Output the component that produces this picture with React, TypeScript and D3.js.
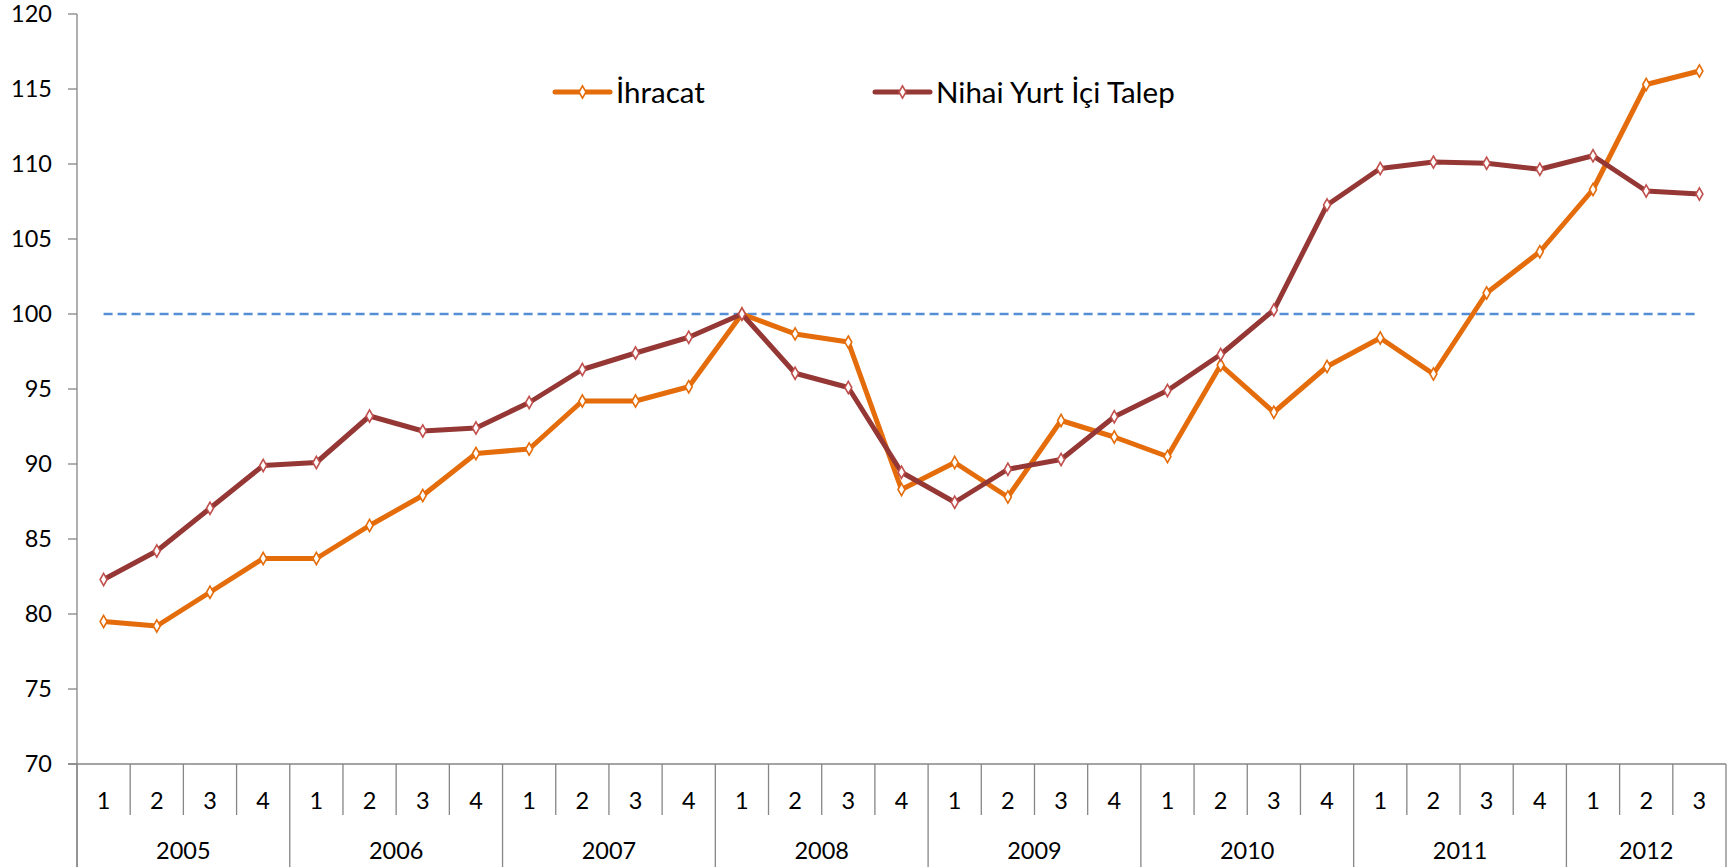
import React from "react";
import * as d3 from "d3";

const periods = [
  "2005-1","2005-2","2005-3","2005-4",
  "2006-1","2006-2","2006-3","2006-4",
  "2007-1","2007-2","2007-3","2007-4",
  "2008-1","2008-2","2008-3","2008-4",
  "2009-1","2009-2","2009-3","2009-4",
  "2010-1","2010-2","2010-3","2010-4",
  "2011-1","2011-2","2011-3","2011-4",
  "2012-1","2012-2","2012-3",
];
const years = ["2005","2006","2007","2008","2009","2010","2011","2012"];

const ihracat = [79.5, 79.2, 81.45, 83.7, 83.7, 85.9, 87.9, 90.7, 91.0, 94.2, 94.2, 95.15, 100, 98.67, 98.13, 88.3, 90.1, 87.8, 92.9, 91.8, 90.5, 96.6, 93.45, 96.5, 98.4, 96.0, 101.4, 104.15, 108.3, 115.3, 116.2];
const talep = [82.3, 84.2, 87.05, 89.9, 90.1, 93.2, 92.2, 92.4, 94.1, 96.3, 97.4, 98.45, 100, 96.05, 95.1, 89.45, 87.45, 89.65, 90.3, 93.15, 94.9, 97.3, 100.27, 107.27, 109.7, 110.13, 110.05, 109.65, 110.55, 108.2, 108.0];
const baseLevel = 100;
const yTicks = [70, 75, 80, 85, 90, 95, 100, 105, 110, 115, 120];

const seriesNames = ["İhracat", "Nihai Yurt İçi Talep"];

const ORANGE = "#E46C0A";
const MAROON = "#953735";
const MAROON_MK = "#C0504D";
const BLUE = "#558ED5";
const AXIS = "#868686";
const FONT = "Lato, 'Open Sans', sans-serif";

export default function App() {
  const W = 1733, H = 867;
  const left = 77, right = 1726, top = 14, bottom = 764;
  const x = d3.scaleBand<string>().domain(periods).range([left, right]).padding(0);
  const bw = x.bandwidth();
  const cx = (p: string) => (x(p) as number) + bw / 2;
  const y = d3.scaleLinear().domain([70, 120]).range([bottom, top]);

  const line = d3.line<number>().x((_, i) => cx(periods[i])).y((v) => y(v));
  const diamond = d3.symbol().type(d3.symbolDiamond).size(42)();

  const series = [
    { name: seriesNames[0], data: ihracat, color: ORANGE, mk: ORANGE },
    { name: seriesNames[1], data: talep, color: MAROON, mk: MAROON_MK },
  ];

  const qRowBottom = 815;
  const yearBounds: { year: string; start: number; end: number }[] = [];
  years.forEach((yr) => {
    const idx = periods.map((p, i) => (p.startsWith(yr) ? i : -1)).filter((i) => i >= 0);
    const start = x(periods[idx[0]]) as number;
    const end = (x(periods[idx[idx.length - 1]]) as number) + bw;
    yearBounds.push({ year: yr, start, end });
  });

  const legendItems = [
    { name: seriesNames[0], color: ORANGE, mk: ORANGE, x0: 555, x1: 610 },
    { name: seriesNames[1], color: MAROON, mk: MAROON_MK, x0: 875, x1: 930 },
  ];

  return (
    <svg width={W} height={H} style={{ position: "absolute", left: 0, top: 0, background: "#fff" }} fontFamily={FONT}>
      {/* y axis */}
      <line x1={left} x2={left} y1={top} y2={H} stroke={AXIS} strokeWidth={1.3} />
      {yTicks.map((t) => (
        <g key={t}>
          <line x1={left - 9} x2={left} y1={y(t)} y2={y(t)} stroke={AXIS} strokeWidth={1.3} />
          <text x={52} y={y(t)} dy="0.36em" textAnchor="end" fontSize={23.5} fill="#000">{t}</text>
        </g>
      ))}
      {/* x axis */}
      <line x1={left - 9} x2={right} y1={bottom} y2={bottom} stroke={AXIS} strokeWidth={1.3} />
      {periods.map((p, i) => (
        <g key={p}>
          {i > 0 && p.endsWith("-1") ? null : (
            <line x1={x(p) as number} x2={x(p) as number} y1={bottom} y2={i === 0 ? H : qRowBottom} stroke={AXIS} strokeWidth={1.3} />
          )}
          <text x={cx(p)} y={800.5} dy="0.36em" textAnchor="middle" fontSize={23.5} fill="#000">{p.split("-")[1]}</text>
        </g>
      ))}
      {yearBounds.map((b) => (
        <g key={b.year}>
          <line x1={b.end} x2={b.end} y1={bottom} y2={H} stroke={AXIS} strokeWidth={1.3} />
          <text x={(b.start + b.end) / 2} y={851} dy="0.36em" textAnchor="middle" fontSize={23.5} fill="#000">{b.year}</text>
        </g>
      ))}
      {/* reference line */}
      <line x1={cx(periods[0])} x2={cx(periods[periods.length - 1])} y1={y(baseLevel)} y2={y(baseLevel)}
        stroke={BLUE} strokeWidth={2.6} strokeDasharray="9,5" />
      {/* series */}
      {series.map((s) => (
        <g key={s.name}>
          <path d={line(s.data) || ""} fill="none" stroke={s.color} strokeWidth={5} strokeLinejoin="round" strokeLinecap="round" />
          {s.data.map((v, i) => (
            <path key={i} d={diamond || ""} transform={`translate(${cx(periods[i])},${y(v)})`} fill="#fff" stroke={s.mk} strokeWidth={1.6} />
          ))}
        </g>
      ))}
      {/* legend */}
      {legendItems.map((l) => (
        <g key={l.name}>
          <line x1={l.x0} x2={l.x1} y1={92} y2={92} stroke={l.color} strokeWidth={5} strokeLinecap="round" />
          <path d={diamond || ""} transform={`translate(${(l.x0 + l.x1) / 2},92)`} fill="#fff" stroke={l.mk} strokeWidth={1.6} />
          <text x={l.x1 + 6} y={92} dy="0.36em" fontSize={29.5} fill="#000">{l.name}</text>
        </g>
      ))}
    </svg>
  );
}
